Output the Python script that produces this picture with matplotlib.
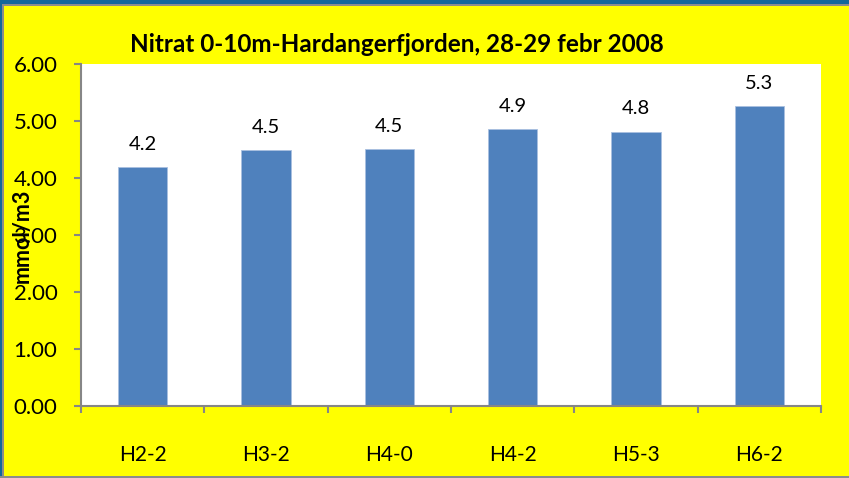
import matplotlib
matplotlib.use("Agg")
import matplotlib.pyplot as plt
from matplotlib.patches import Rectangle
import numpy as np

categories = ["H2-2", "H3-2", "H4-0", "H4-2", "H5-3", "H6-2"]
values = [4.19, 4.49, 4.51, 4.86, 4.81, 5.26]
yticks = [0.0, 1.0, 2.0, 3.0, 4.0, 5.0, 6.0]
title = "Nitrat 0-10m-Hardangerfjorden, 28-29 febr 2008"
ylabel = "mmol/m3"

plt.rcParams['font.family'] = ['Lato', 'DejaVu Sans']

W, H = 849, 478
fig = plt.figure(figsize=(W / 100, H / 100), dpi=100)
fig.patch.set_facecolor('#FFFF00')

def px_rect(x0, y0, x1, y1, color):
    fig.add_artist(Rectangle((x0 / W, 1 - y1 / H), (x1 - x0) / W, (y1 - y0) / H,
                             transform=fig.transFigure, facecolor=color,
                             edgecolor='none', zorder=0))

# frame decoration
px_rect(0, 0, W, 4, '#14679A')
px_rect(0, 4, W, 6, '#8C8C8C')
px_rect(0, 0, 2, H, '#14679A')
px_rect(2, 4, 3.5, H, '#8C8C8C')
px_rect(0, 476, W, H, '#8C8C8C')

ax = fig.add_axes([81 / W, 1 - 406 / H, 740 / W, 342 / H])
ax.set_facecolor('white')

x = np.arange(len(categories))
bars = ax.bar(x, values, width=0.40, color='#4F81BD', edgecolor='#A9C0E0',
              linewidth=0.6, zorder=2)

for xi, v in zip(x, values):
    ax.annotate(f"{v:.1f}", (xi, v), xytext=(0, 16.5), textcoords='offset points',
                ha='center', va='center', fontsize=14.5, color='black')

ax.set_xlim(-0.5, len(categories) - 0.5)
ax.set_ylim(0, 6)
ax.set_yticks(yticks)
ax.set_yticklabels([f"{t:.2f}" for t in yticks], fontsize=16)
ax.set_xticks(x)
ax.set_xticklabels(categories, fontsize=15)
ax.set_xticks(np.arange(len(categories) + 1) - 0.5, minor=True)
ax.tick_params(axis='x', which='major', length=0, pad=28)
ax.tick_params(axis='x', which='minor', length=5, width=1.5, color='#868686', direction='out')
ax.tick_params(axis='y', length=5, width=1.5, color='#868686', direction='out', pad=12)

for s in ['top', 'right']:
    ax.spines[s].set_visible(False)
for s in ['left', 'bottom']:
    ax.spines[s].set_color('#868686')
    ax.spines[s].set_linewidth(1.5)

fig.text(397 / W, 1 - 45 / H, title, ha='center', va='center',
         fontsize=17.5, fontweight='bold', color='black')
fig.text(22 / W, 1 - 236 / H, ylabel, ha='center', va='center', rotation=90,
         fontsize=15.5, fontweight='bold', color='black')

fig.savefig('out.png', dpi=100, facecolor=fig.get_facecolor())
